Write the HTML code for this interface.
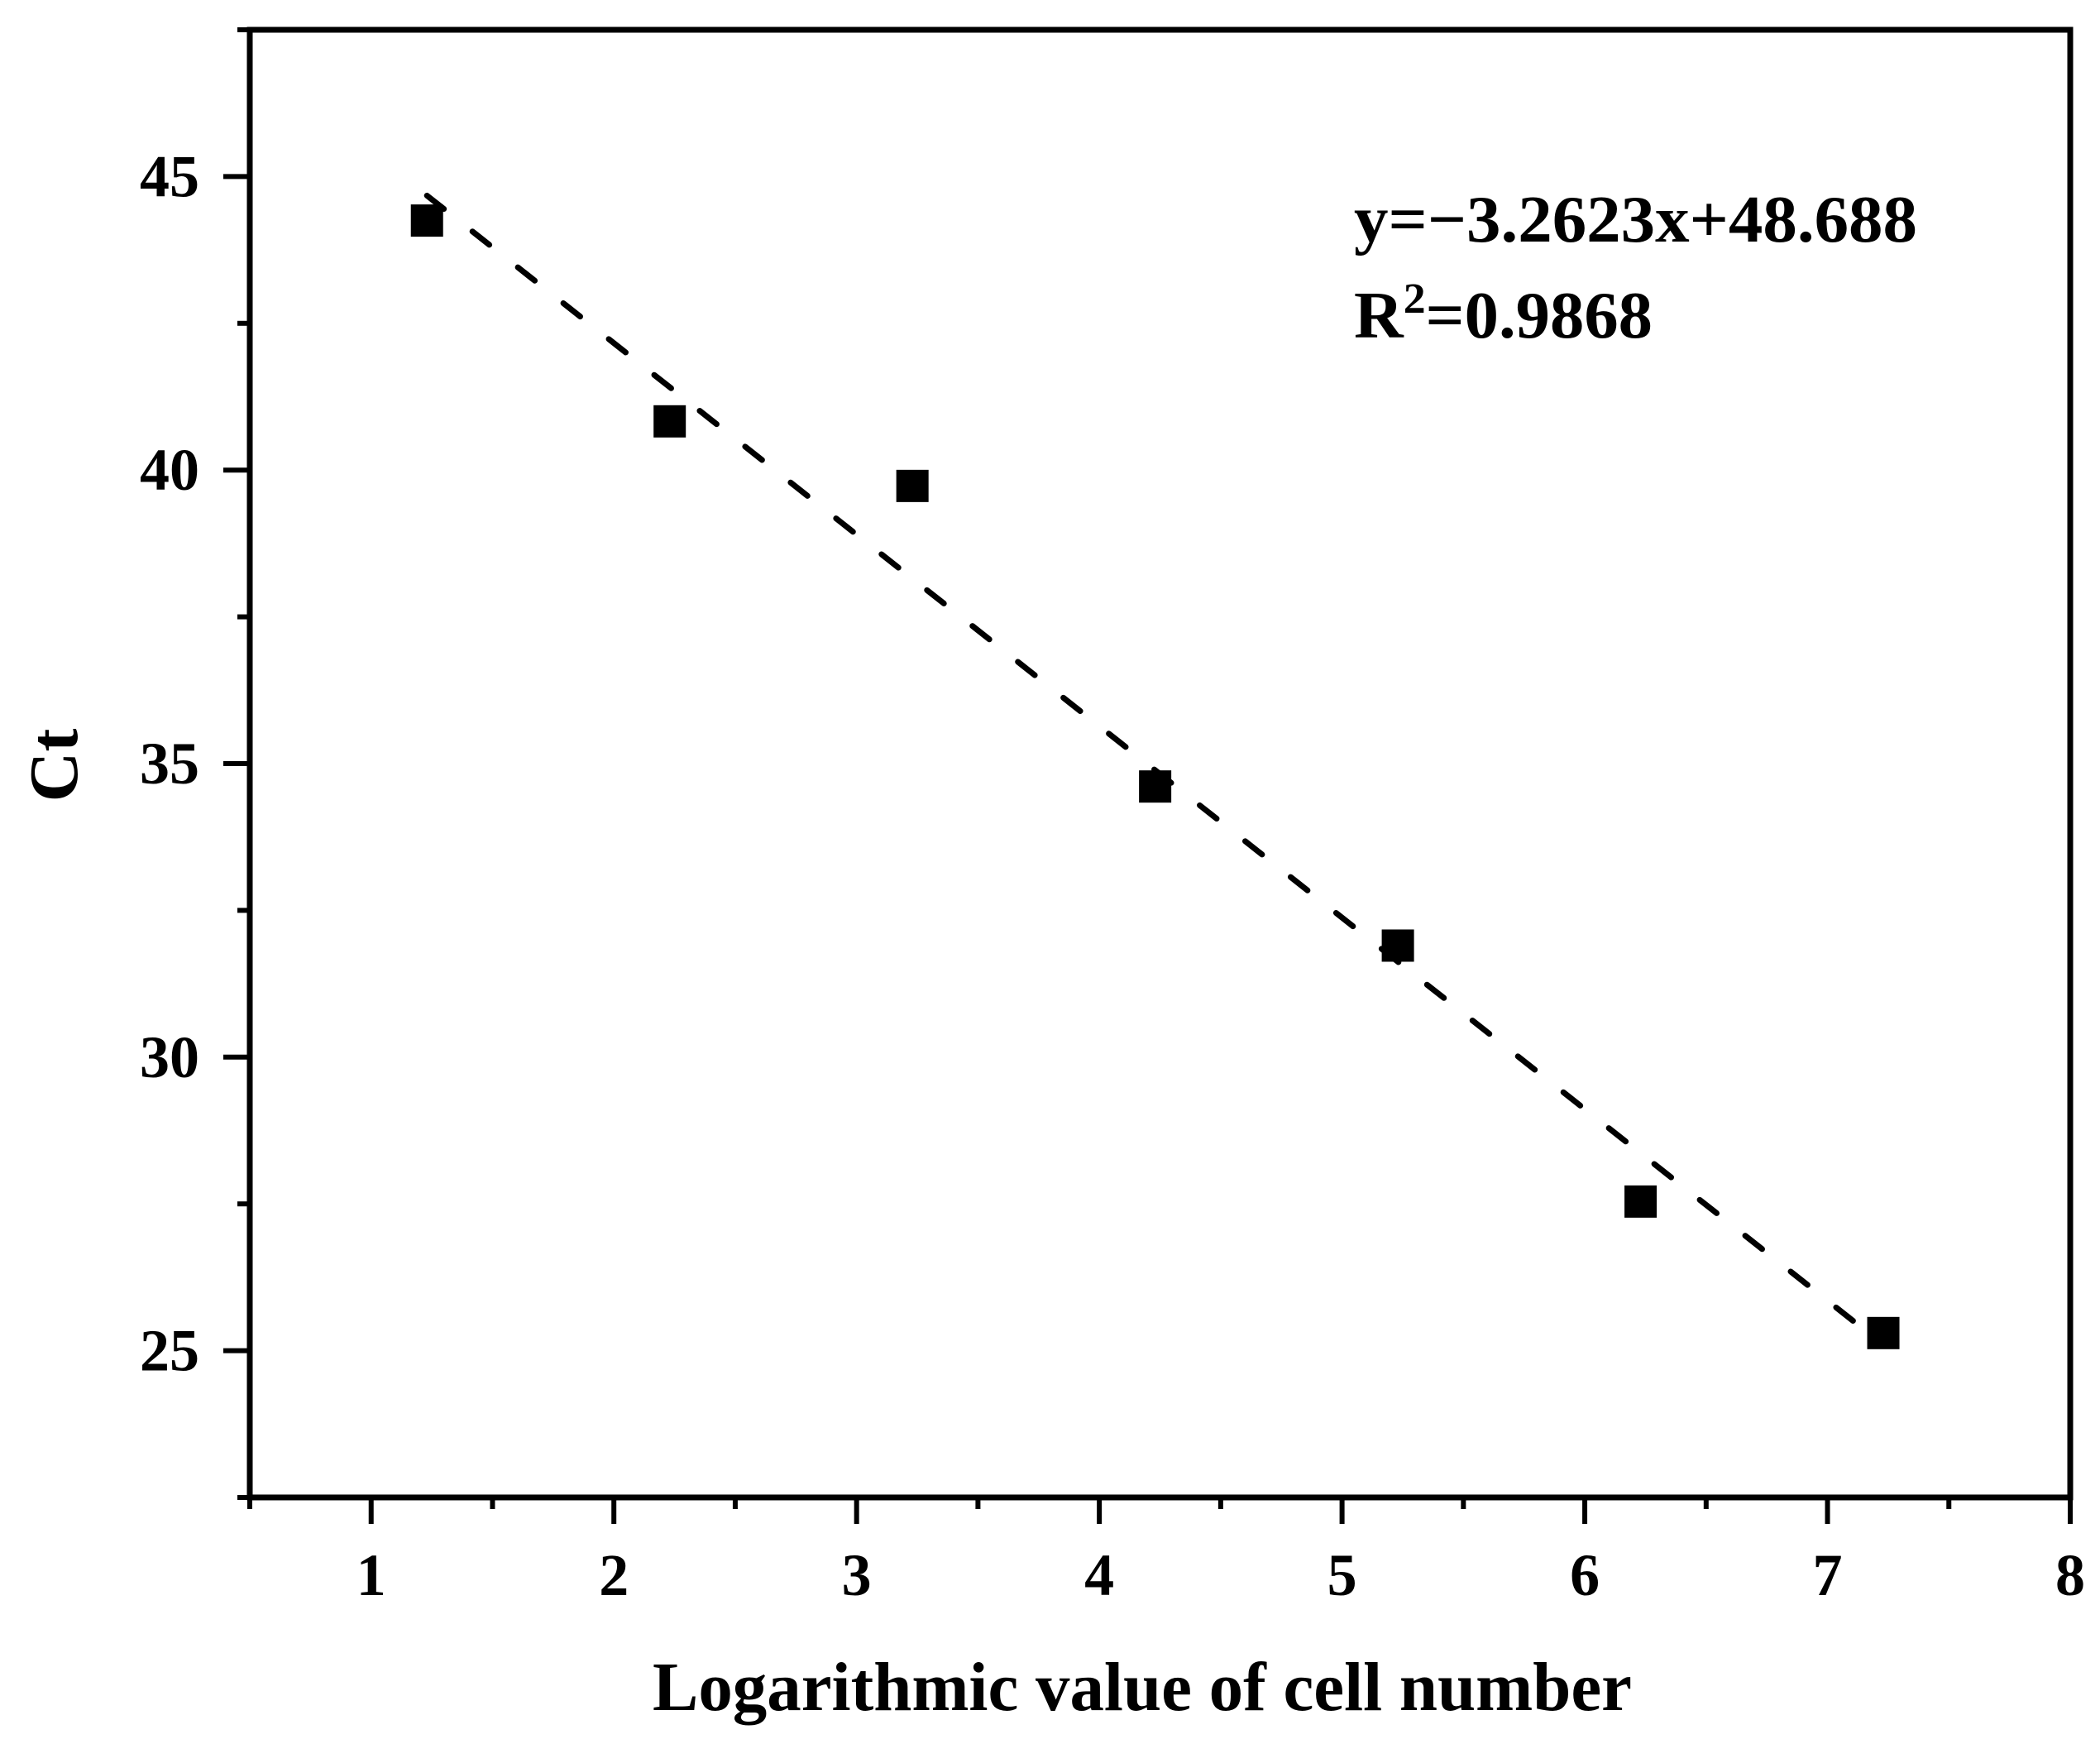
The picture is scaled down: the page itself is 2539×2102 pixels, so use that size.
<!DOCTYPE html>
<html>
<head>
<meta charset="utf-8">
<style>
html,body{margin:0;padding:0;background:#fff;}
svg{display:block;}
text{font-family:"Liberation Serif","Times New Roman",serif;font-weight:bold;fill:#000;}
</style>
</head>
<body>
<svg id="chart" width="2539" height="2102" viewBox="0 0 2539 2102" xmlns="http://www.w3.org/2000/svg">
  <rect x="0" y="0" width="2539" height="2102" fill="#fff"/>
  <g id="plot"></g>
  <text x="1381" y="2067" font-size="84" text-anchor="middle" textLength="1184" lengthAdjust="spacingAndGlyphs">Logarithmic value of cell number</text>
  <text transform="translate(93,925) rotate(-90)" font-size="84" text-anchor="middle">Ct</text>
  <text x="1637" y="292" font-size="80" textLength="681" lengthAdjust="spacingAndGlyphs">y=−3.2623x+48.688</text>
  <text x="1637" y="408" font-size="80" textLength="361" lengthAdjust="spacingAndGlyphs">R<tspan font-size="52" dy="-30">2</tspan><tspan dy="30">=0.9868</tspan></text>
</svg>
<script>
const xValues = [1.23, 2.23, 3.23, 4.23, 5.23, 6.23, 7.23];
const ctValues = [44.25, 40.83, 39.73, 34.61, 31.9, 27.54, 25.3];
const fitSlope = -3.2623;
const fitIntercept = 48.688;
const xTickLabels = ["1", "2", "3", "4", "5", "6", "7", "8"];
const yTickLabels = ["25", "30", "35", "40", "45"];

const X0 = 302, X1 = 2503, Y0 = 1810, Y1 = 36;
const xMin = 0.5, xMax = 8, yMin = 22.5, yMax = 47.5;
const sx = v => X0 + (v - xMin) / (xMax - xMin) * (X1 - X0);
const sy = v => Y0 - (v - yMin) / (yMax - yMin) * (Y0 - Y1);

const NS = "http://www.w3.org/2000/svg";
const plot = document.getElementById('plot');
function mk(tag, attrs) {
  const e = document.createElementNS(NS, tag);
  for (const k in attrs) e.setAttribute(k, attrs[k]);
  plot.appendChild(e);
  return e;
}

let frame = mk('rect', {x: X0, y: Y1, width: X1 - X0, height: Y0 - Y1, fill: 'none', stroke: '#000', 'stroke-width': 7});



for (let v = 0.5; v <= 8.001; v += 0.5) {
  const major = Math.abs(v - Math.round(v)) < 1e-6;
  const t = mk('line', {x1: sx(v), x2: sx(v), y1: Y0, y2: Y0 + (major ? 32 : 14), stroke: '#000', 'stroke-width': 6});
  
  
}
xTickLabels.forEach(lbl => {
  const t = mk('text', {x: sx(parseFloat(lbl)), y: 1928, 'font-size': 72, 'text-anchor': 'middle'});
  t.textContent = lbl;
  
  
});

for (let v = 22.5; v <= 47.501; v += 2.5) {
  const major = Math.abs(v / 5 - Math.round(v / 5)) < 1e-6;
  const t = mk('line', {x1: X0 - (major ? 32 : 15), x2: X0, y1: sy(v), y2: sy(v), stroke: '#000', 'stroke-width': 6});
  
  
}
yTickLabels.forEach(lbl => {
  const t = mk('text', {x: 241, y: sy(parseFloat(lbl)) + 24, 'font-size': 72, 'text-anchor': 'end'});
  t.textContent = lbl;
  
  
});

const fx0 = xValues[0], fx1 = xValues[xValues.length - 1];
const fit = mk('line', {x1: sx(fx0), y1: sy(fitSlope * fx0 + fitIntercept), x2: sx(fx1), y2: sy(fitSlope * fx1 + fitIntercept),
  stroke: '#000', 'stroke-width': 7, 'stroke-dasharray': '26 44', 'stroke-linecap': 'round'});



xValues.forEach((xv, i) => {
  const s = 39;
  const p = mk('rect', {x: sx(xv) - s / 2, y: sy(ctValues[i]) - s / 2, width: s, height: s, fill: '#000'});
  
  
});
</script>
</body>
</html>
